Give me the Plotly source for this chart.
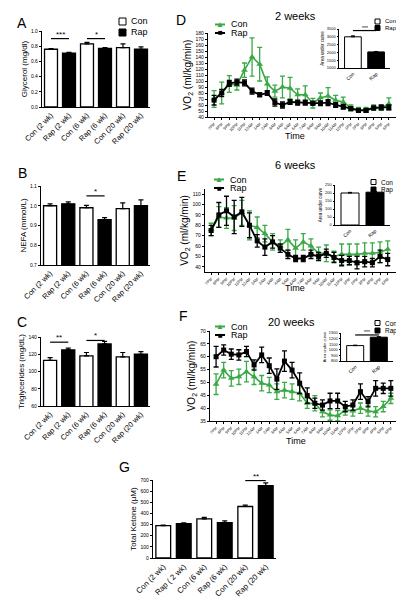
import plotly.graph_objects as go

W, H = 404, 600
FONT = "Liberation Sans, Arial, sans-serif"
GREEN = "#3aa845"

# ---------------- data ----------------
groups = ["Con (2 wk)", "Rap (2 wk)", "Con (6 wk)", "Rap (6 wk)", "Con (20 wk)", "Rap (20 wk)"]
g_groups = ["Con (2 wk)", "Rap ( 2 wk)", "Con (6 wk)", "Rap (6 wk)", "Con (20 wk)", "Rap (20 wk)"]

glycerol = [0.76, 0.71, 0.83, 0.77, 0.78, 0.76]
glycerol_err = [0.01, 0.01, 0.02, 0.01, 0.05, 0.03]
nefa = [1.0, 1.01, 0.99, 0.93, 0.985, 1.0]
nefa_err = [0.01, 0.01, 0.012, 0.01, 0.03, 0.03]
tg = [113, 125, 118, 132, 117, 120]
tg_err = [3, 2, 4, 3, 5, 3]
ketone = [290, 308, 352, 318, 462, 650]
ketone_err = [5, 8, 12, 15, 12, 25]

sig_A = [("Con (2 wk)", "Rap (2 wk)", 0.9, "***"), ("Con (6 wk)", "Rap (6 wk)", 0.9, "*")]
sig_B = [("Con (6 wk)", "Rap (6 wk)", 1.05, "*")]
sig_C = [("Con (2 wk)", "Rap (2 wk)", 134, "**"), ("Con (6 wk)", "Rap (6 wk)", 136, "*")]
sig_G = [("Con (20 wk)", "Rap (20 wk)", 695, "**")]

times = ["7PM", "8PM", "9PM", "10PM", "11PM", "12AM", "1AM", "2AM", "3AM", "4AM", "5AM", "6AM",
         "7AM", "8AM", "9AM", "10AM", "11AM", "12PM", "1PM", "2PM", "3PM", "4PM", "5PM", "6PM"]

d_con = [70, 80, 95, 93, 118, 140, 128, 95, 83, 90, 88, 77, 77, 63, 72, 75, 68, 65, 55, 52, 52, 56, 55, 62]
d_con_err = [14, 18, 14, 8, 12, 32, 28, 12, 10, 18, 18, 10, 15, 8, 8, 14, 8, 8, 5, 4, 4, 4, 4, 10]
d_rap = [68, 80, 96, 98, 97, 83, 77, 80, 64, 60, 65, 64, 64, 63, 63, 64, 60, 57, 54, 51, 51, 55, 56, 56]
d_rap_err = [8, 6, 5, 5, 5, 5, 3, 4, 6, 5, 4, 4, 4, 3, 4, 5, 4, 4, 3, 3, 3, 3, 4, 4]

e_con = [76, 88, 87, 87, 92, 80, 78, 72, 64, 60, 66, 58, 64, 60, 53, 53, 50, 52, 52, 52, 53, 53, 54, 57]
e_con_err = [6, 10, 10, 12, 12, 14, 10, 8, 8, 6, 10, 8, 8, 7, 6, 8, 5, 10, 10, 10, 10, 10, 10, 8]
e_rap = [75, 90, 94, 88, 93, 80, 65, 59, 64, 58, 52, 48, 48, 52, 50, 53, 49, 46, 46, 44, 45, 44, 50, 47]
e_rap_err = [5, 12, 14, 16, 14, 12, 6, 8, 6, 4, 4, 3, 3, 4, 4, 4, 5, 5, 4, 6, 5, 4, 6, 6]

f_con = [49.3, 54.8, 51.6, 52.2, 54.2, 52.2, 49.7, 49.0, 46.4, 47.0, 46.4, 45.8, 41.9, 41.9, 38.6, 37.3,
         37.0, 39.3, 38.9, 40.0, 38.9, 38.6, 40.6, 43.8]
f_con_err = [4, 3, 3, 3, 4, 3, 3, 3, 3, 3, 3, 3, 2, 3, 2, 2, 2, 2, 2, 2, 2, 2, 2, 2]
f_rap = [60.0, 62.6, 61.0, 60.7, 62.0, 56.8, 60.7, 56.5, 51.3, 58.3, 54.8, 49.7, 44.9, 41.9, 41.2, 42.8,
         42.8, 40.6, 41.2, 46.4, 42.5, 47.7, 47.7, 47.7]
f_rap_err = [4, 2, 2, 2, 2, 2, 3, 3, 4, 4, 3, 4, 3, 2, 2, 3, 3, 2, 2, 3, 2, 3, 2, 3]

inset_groups = ["Con", "Rap"]
auc_d = [3000, 2030]
auc_d_err = [60, 30]
auc_e = [200, 205]
auc_e_err = [4, 4]
auc_f = [1075, 1225]
auc_f_err = [8, 8]

# ---------------- helpers ----------------
fig = go.Figure()


def px_x(v):
    return v / W


def px_y(v):
    return 1 - v / H


def dom_x(a, b):
    return [a / W, b / W]


def dom_y(top, bottom):
    return [1 - bottom / H, 1 - top / H]


def axis_style(domain, anchor, **kw):
    d = dict(domain=domain, anchor=anchor, showline=True, linecolor="black", linewidth=1.3,
             ticks="outside", ticklen=2, tickwidth=1, tickcolor="black", showgrid=False,
             zeroline=False, automargin=False,
             tickfont=dict(size=5, family=FONT, color="black"))
    d.update(kw)
    return d


def bar_panel(n, cats, vals, errs, bw=0.72, lw=1.3):
    xa, ya = "x%d" % n, "y%d" % n
    for idx, fill in [(range(0, len(cats), 2), "white"), (range(1, len(cats), 2), "black")]:
        fig.add_trace(go.Bar(
            x=[cats[i] for i in idx], y=[vals[i] for i in idx], width=bw,
            marker=dict(color=fill, line=dict(color="black", width=lw)),
            error_y=dict(type="data", array=[errs[i] for i in idx], arrayminus=[0] * len(idx),
                         symmetric=False, color="black", thickness=1.2, width=2.5),
            xaxis=xa, yaxis=ya, showlegend=False))


def sig_lines(n, cats, sigs, star_size=8):
    xa, ya = "x%d" % n, "y%d" % n
    for c1, c2, h, txt in sigs:
        fig.add_trace(go.Scatter(x=[c1, c2], y=[h, h], mode="lines",
                                 line=dict(color="black", width=1.2),
                                 xaxis=xa, yaxis=ya, showlegend=False, hoverinfo="skip"))
        mid = (cats.index(c1) + cats.index(c2)) / 2
        fig.add_annotation(x=mid, y=h, xref=xa, yref=ya, text=txt, showarrow=False,
                           yanchor="bottom", yshift=-2,
                           font=dict(size=star_size, family=FONT, color="black"))


def line_panel(n, con, con_err, rap, rap_err):
    xa, ya = "x%d" % n, "y%d" % n
    fig.add_trace(go.Scatter(
        x=times, y=con, mode="lines+markers",
        line=dict(color=GREEN, width=1.6),
        marker=dict(symbol="triangle-up", size=6, color=GREEN),
        error_y=dict(type="data", array=con_err, color=GREEN, thickness=1.3, width=2.5),
        xaxis=xa, yaxis=ya, showlegend=False))
    fig.add_trace(go.Scatter(
        x=times, y=rap, mode="lines+markers",
        line=dict(color="black", width=1.8),
        marker=dict(symbol="square", size=5, color="black"),
        error_y=dict(type="data", array=rap_err, color="black", thickness=1.3, width=2.5),
        xaxis=xa, yaxis=ya, showlegend=False))


def inset_panel(n, vals, errs):
    xa, ya = "x%d" % n, "y%d" % n
    for i, fill in enumerate(["white", "black"]):
        fig.add_trace(go.Bar(
            x=[inset_groups[i]], y=[vals[i]], width=0.72,
            marker=dict(color=fill, line=dict(color="black", width=1)),
            error_y=dict(type="data", array=[errs[i]], arrayminus=[0], symmetric=False,
                         color="black", thickness=1, width=2),
            xaxis=xa, yaxis=ya, showlegend=False))


def text(txt, x, y, size, xanchor="center", color="black", yanchor="middle"):
    fig.add_annotation(x=px_x(x), y=px_y(y), xref="paper", yref="paper", text=txt, showarrow=False,
                       xanchor=xanchor, yanchor=yanchor,
                       font=dict(size=size, family=FONT, color=color))


def legend_box(x, y, s, fill, label, fsize):
    # legend key: square box with outline, then label
    fig.add_shape(type="rect", xref="paper", yref="paper",
                  x0=px_x(x), x1=px_x(x + s), y0=px_y(y + s / 2), y1=px_y(y - s / 2),
                  line=dict(color="black", width=1), fillcolor=fill)
    text(label, x + s + 2.5, y, fsize, xanchor="left")


def legend_line(x, y, color, glyph, label, fsize=9, gsize=8):
    fig.add_shape(type="line", xref="paper", yref="paper",
                  x0=px_x(x - 5), x1=px_x(x + 5), y0=px_y(y), y1=px_y(y),
                  line=dict(color=color, width=2))
    text(glyph, x, y, gsize, color=color)
    text(label, x + 9, y, fsize, xanchor="left")


# ---------------- traces ----------------
bar_panel(1, groups, glycerol, glycerol_err)
sig_lines(1, groups, sig_A)
bar_panel(2, groups, nefa, nefa_err)
sig_lines(2, groups, sig_B)
bar_panel(3, groups, tg, tg_err)
sig_lines(3, groups, sig_C)

line_panel(4, d_con, d_con_err, d_rap, d_rap_err)
inset_panel(5, auc_d, auc_d_err)
sig_lines(5, inset_groups, [("Con", "Rap", 3400, "***")], star_size=5)

line_panel(6, e_con, e_con_err, e_rap, e_rap_err)
inset_panel(7, auc_e, auc_e_err)

line_panel(8, f_con, f_con_err, f_rap, f_rap_err)
inset_panel(9, auc_f, auc_f_err)
sig_lines(9, inset_groups, [("Con", "Rap", 1265, "***")], star_size=5)

bar_panel(10, g_groups, ketone, ketone_err)
sig_lines(10, g_groups, sig_G)

# ---------------- axes ----------------
def ytitle(t, s=8, so=2):
    return dict(text=t, font=dict(size=s, family=FONT, color="black"), standoff=so)


def xcat(cats, size=7.5):
    return dict(tickangle=-45, tickfont=dict(size=size, family=FONT, color="black"), ticks="",
                range=[-0.5, 5.5], categoryorder="array", categoryarray=cats,
                tickmode="array", tickvals=cats)


xtime = dict(tickangle=-45, tickfont=dict(size=4, family=FONT, color="black"), range=[-0.8, 24.6],
             ticklen=2, tickmode="array", tickvals=times, categoryorder="array", categoryarray=times)
xin = dict(tickangle=-45, tickfont=dict(size=5, family=FONT, color="black"), ticks="", range=[-0.6, 1.6],
           linewidth=1, categoryorder="array", categoryarray=inset_groups)
yin = dict(linewidth=1, ticklen=1.5)

layout_axes = {
    # A
    "xaxis": axis_style(dom_x(34, 142), "y", **xcat(groups)),
    "yaxis": axis_style(dom_y(23, 99), "x", range=[0, 1.0], dtick=0.2, tickformat=".1f",
                        title=ytitle("Glycerol (mg/dl)")),
    # B
    "xaxis2": axis_style(dom_x(33, 142), "y2", **xcat(groups)),
    "yaxis2": axis_style(dom_y(178, 257), "x2", range=[0.7, 1.1], dtick=0.1, tickformat=".1f",
                         title=ytitle("NEFA (mmol/L)")),
    # C
    "xaxis3": axis_style(dom_x(33, 142), "y3", **xcat(groups)),
    "yaxis3": axis_style(dom_y(329, 398), "x3", range=[60, 140], dtick=20,
                         title=ytitle("Triglycerides (mg/dL)")),
    # D
    "xaxis4": axis_style(dom_x(200, 393), "y4", **xtime),
    "yaxis4": axis_style(dom_y(25, 109), "x4", range=[40, 180], dtick=10,
                         title=ytitle("VO<sub>2</sub> (ml/kg/min)", 10)),
    "xaxis5": axis_style(dom_x(331, 382), "y5", **xin),
    "yaxis5": axis_style(dom_y(21, 60), "x5", range=[1000, 3500], dtick=500,
                         tickfont=dict(size=4, family=FONT), title=ytitle("Area under curve", 4.5), **yin),
    # E
    "xaxis6": axis_style(dom_x(197, 392), "y6", **xtime),
    "yaxis6": axis_style(dom_y(181, 264), "x6", range=[35, 115], dtick=10,
                         title=ytitle("VO<sub>2</sub> (ml/kg/min)", 10)),
    "xaxis7": axis_style(dom_x(327, 382), "y7", **xin),
    "yaxis7": axis_style(dom_y(177, 217), "x7", range=[0, 250], dtick=50,
                         tickfont=dict(size=4, family=FONT), title=ytitle("Area under curve", 4.5), **yin),
    # F
    "xaxis8": axis_style(dom_x(202, 395), "y8", **xtime),
    "yaxis8": axis_style(dom_y(323, 413), "x8", range=[35, 70], dtick=5,
                         title=ytitle("VO<sub>2</sub> (ml/kg/min)", 10)),
    "xaxis9": axis_style(dom_x(333, 385), "y9", **xin),
    "yaxis9": axis_style(dom_y(325, 353), "x9", range=[800, 1300], dtick=100,
                         tickfont=dict(size=4, family=FONT), title=ytitle("Area under curve", 4), **yin),
    # G
    "xaxis10": axis_style(dom_x(145, 268), "y10", **xcat(g_groups, 7.8)),
    "yaxis10": axis_style(dom_y(472, 550), "x10", range=[0, 700], dtick=100,
                          title=ytitle("Total Ketone (µM)", 8)),
}

fig.update_layout(
    template="none",
    width=W, height=H, margin=dict(l=0, r=0, t=0, b=0, autoexpand=False),
    paper_bgcolor="white", plot_bgcolor="white",
    barmode="overlay", font=dict(family=FONT, color="black"),
    showlegend=False,
    **layout_axes,
)

# legends (keys drawn by hand)
legend_box(111, 13.5, 7, "white", "Con", 9)
legend_box(111, 24.5, 7, "black", "Rap", 9)

legend_line(212, 16.5, GREEN, "▲", "Con")
legend_line(212, 25, "black", "■", "Rap")
legend_box(367, 13.5, 5, "white", "Con", 6)
legend_box(367, 20, 5, "black", "Rap", 6)

legend_line(211, 171.5, GREEN, "▲", "Con")
legend_line(211, 180, "black", "■", "Rap")
legend_box(363, 174, 5, "white", "Con", 6.5)
legend_box(363, 181.5, 5, "black", "Rap", 6.5)

legend_line(212, 318.5, GREEN, "▲", "Con")
legend_line(212, 327, "black", "■", "Rap")
legend_box(367, 315, 5, "white", "Con", 6.5)
legend_box(367, 322.5, 5, "black", "Rap", 6.5)

# axis "Time" labels
text("Time", 287, 128, 9)
text("Time", 287, 280, 9)
text("Time", 288, 433, 9)

# panel letters and titles
for txt, x, y in [("A", 14, 15), ("B", 14, 165), ("C", 14, 314), ("D", 173, 12), ("E", 173, 168),
                  ("F", 175, 308), ("G", 117, 459)]:
    text(txt, x, y, 14)
for txt, x, y in [("2 weeks", 287, 8), ("6 weeks", 287, 157), ("20 weeks", 283, 314)]:
    text(txt, x, y, 11)

fig.write_html("out.html")
